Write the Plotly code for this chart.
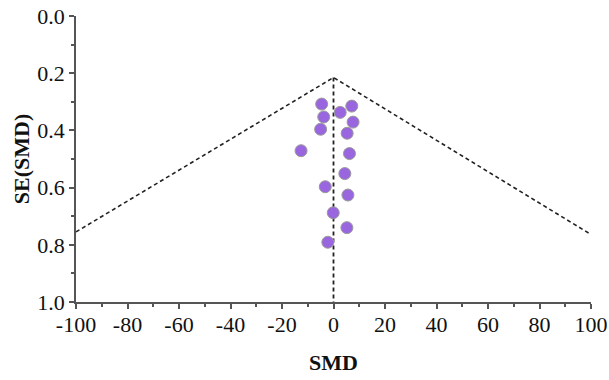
import plotly.graph_objects as go

# Study points: standardized mean difference and its standard error
smd = [-4.6, 7.1, 2.6, -3.8, 7.6, -5.0, 5.3, -12.6, 6.2, 4.4, -3.2, 5.6, -0.1, 5.2, -2.2]
se = [0.308, 0.315, 0.337, 0.353, 0.371, 0.396, 0.410, 0.471, 0.481, 0.551, 0.597, 0.626, 0.688, 0.740, 0.791]

# Funnel (pseudo confidence limits) and pooled-effect line
funnel_x = [-100, 0, 100]
funnel_se = [0.755, 0.215, 0.764]
center_x = [0, 0]
center_se = [0.215, 1.0]

x_ticks = [-100, -80, -60, -40, -20, 0, 20, 40, 60, 80, 100]
y_ticks = [0.0, 0.2, 0.4, 0.6, 0.8, 1.0]

font_family = "Liberation Serif, Times New Roman, serif"

fig = go.Figure()
fig.add_trace(go.Scatter(x=funnel_x, y=funnel_se, mode="lines",
                         line=dict(color="#222222", width=1.6, dash="4px,3px"),
                         hoverinfo="skip", showlegend=False, cliponaxis=False))
fig.add_trace(go.Scatter(x=center_x, y=center_se, mode="lines",
                         line=dict(color="#222222", width=1.8, dash="4px,3px"),
                         hoverinfo="skip", showlegend=False))
fig.add_trace(go.Scatter(x=smd, y=se, mode="markers",
                         marker=dict(size=12, color="#9966e0",
                                     line=dict(color="#9a9a9a", width=1)),
                         showlegend=False))

fig.update_layout(
    width=609, height=380,
    margin=dict(l=76, r=18, t=16, b=78),
    paper_bgcolor="white", plot_bgcolor="white",
    font=dict(family=font_family, color="#111111", size=22),
)
fig.update_xaxes(
    range=[-100, 100], tickvals=x_ticks, ticktext=[str(v) for v in x_ticks],
    automargin=False,
    showgrid=False, zeroline=False, showline=True, linecolor="#555555", linewidth=1.5,
    ticks="outside", ticklen=5, tickcolor="#555555", tickwidth=1.5, ticklabelstandoff=-3,
    minor=dict(dtick=10, ticks="outside", ticklen=3, tickcolor="#555555", tickwidth=1.5, showgrid=False),
    title=dict(text="<b>SMD</b>", font=dict(size=22, family=font_family), standoff=18),
    tickfont=dict(size=22, family=font_family),
)
fig.update_yaxes(
    range=[1.0, 0.0], tickvals=y_ticks, ticktext=[f"{v:.1f}" for v in y_ticks],
    automargin=False,
    showgrid=False, zeroline=False, showline=True, linecolor="#555555", linewidth=1.5,
    ticks="outside", ticklen=5, tickcolor="#555555", tickwidth=1.5,
    minor=dict(dtick=0.1, ticks="outside", ticklen=3, tickcolor="#555555", tickwidth=1.5, showgrid=False),
    title=dict(text="<b>SE(SMD)</b>", font=dict(size=22, family=font_family), standoff=2),
    tickfont=dict(size=22, family=font_family),
)

# remove the browser's default 8px body margin so the figure fills the window exactly
fig.write_html("out.html", config={"displayModeBar": False},
               post_script="document.body.style.margin='0';")
